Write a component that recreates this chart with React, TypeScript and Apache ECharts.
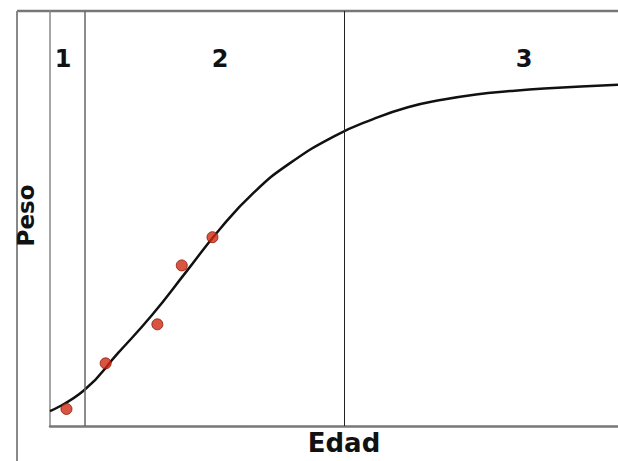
import React, { useEffect, useRef } from "react";
import * as echarts from "echarts";

const curveEdad = [0, 6, 12, 18, 24, 30, 36, 42, 50, 57, 63, 69, 75, 81, 87, 100];
const curvePeso = [3.6, 8.6, 17.6, 26.8, 37.2, 47.6, 56.4, 63.1, 69.8, 74.0, 76.8, 78.6, 79.9, 80.7, 81.3, 82.2];

const dotEdad = [2.9, 9.8, 18.9, 23.2, 28.6];
const dotPeso = [4.1, 15.1, 24.5, 38.7, 45.5];

const phaseBounds = [6.2, 51.8];
const phaseLabels = ["1", "2", "3"];

export default function App() {
  const ref = useRef<HTMLDivElement>(null);
  useEffect(() => {
    document.body.style.margin = "0";
    if (!ref.current) return;
    const chart = echarts.init(ref.current, undefined, { renderer: "svg" });
    const font = "'DejaVu Sans', sans-serif";
    const labelPos = [63, 220, 524];
    chart.setOption({
      animation: false,
      backgroundColor: "#ffffff",
      grid: { left: 50, right: 0, top: 11, bottom: 34 },
      xAxis: {
        type: "value",
        min: 0,
        max: 100,
        name: "Edad",
        nameLocation: "middle",
        nameGap: 4,
        nameTextStyle: { fontFamily: font, fontWeight: "bold", fontSize: 26, color: "#111", padding: [0, 0, 0, 20] },
        axisLine: { show: true, lineStyle: { color: "#777", width: 2.5 } },
        axisTick: { show: false },
        axisLabel: { show: false },
        splitLine: { show: false },
      },
      yAxis: {
        type: "value",
        min: 0,
        max: 100,
        name: "Peso",
        nameLocation: "middle",
        nameRotate: 90,
        nameGap: 13,
        nameTextStyle: { fontFamily: font, fontWeight: "bold", fontSize: 23, color: "#111", padding: [0, 0, 0, 6] },
        axisLine: { show: true, lineStyle: { color: "#888", width: 1.5 } },
        axisTick: { show: false },
        axisLabel: { show: false },
        splitLine: { show: false },
      },
      graphic: [
        { type: "line", shape: { x1: 17, y1: 11, x2: 618, y2: 11 }, style: { stroke: "#777", lineWidth: 2.5 } },
        { type: "line", shape: { x1: 17, y1: 11, x2: 17, y2: 461 }, style: { stroke: "#888", lineWidth: 2 } },
        ...phaseLabels.map((t, i) => ({
          type: "text",
          x: labelPos[i],
          y: 59,
          style: {
            text: t,
            fontFamily: font,
            fontWeight: "bold",
            fontSize: 24,
            fill: "#111",
            align: "center",
            verticalAlign: "middle",
          },
        })),
      ],
      series: [
        {
          type: "line",
          data: curveEdad.map((x, i) => [x, curvePeso[i]]),
          smooth: 0.5,
          symbol: "none",
          lineStyle: { color: "#111", width: 2.5 },
          markLine: {
            silent: true,
            symbol: "none",
            label: { show: false },
            data: [
              { xAxis: phaseBounds[0], lineStyle: { color: "#666", width: 1.5, type: "solid" } },
              { xAxis: phaseBounds[1], lineStyle: { color: "#222", width: 1, type: "solid" } },
            ],
          },
          z: 3,
        },
        {
          type: "scatter",
          data: dotEdad.map((x, i) => [x, dotPeso[i]]),
          symbolSize: 11,
          itemStyle: { color: "#d02a12", borderColor: "#8a1608", borderWidth: 1 },
          z: 4,
        },
      ],
    });
    return () => chart.dispose();
  }, []);
  return <div ref={ref} style={{ width: 618, height: 461 }} />;
}
